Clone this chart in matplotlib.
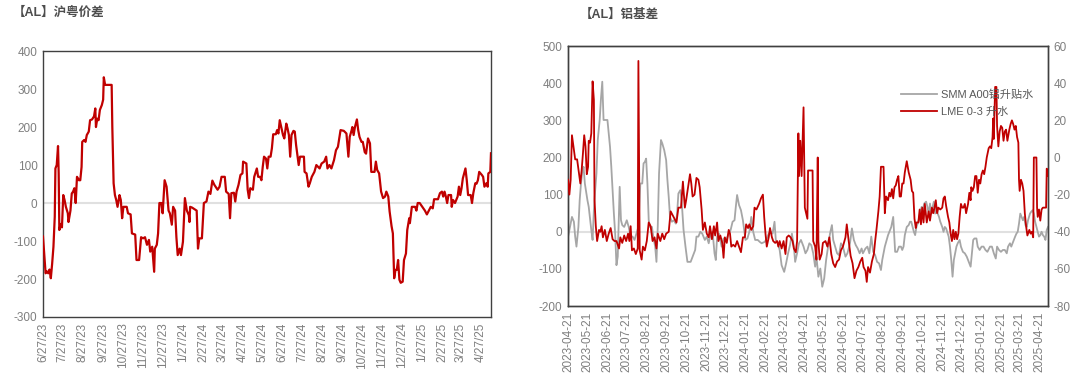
import matplotlib
matplotlib.use("Agg")
import matplotlib.pyplot as plt
import numpy as np
import pandas as pd

plt.rcParams['font.family'] = ['Liberation Sans', 'Noto Sans CJK SC', 'DejaVu Sans']
plt.rcParams['axes.unicode_minus'] = False

RED = '#c00000'
GRAY = '#a6a6a6'
TXT = '#7f7f7f'
TITLE = '#4d4d4d'

# ---- 沪粤价差 (days since 2023-06-27, value) ----
hy_start = '2023-06-27'
hy_days = [0, 4, 6, 8, 10, 12, 14, 16, 18, 19, 21, 23, 24, 25, 27, 29, 31, 33, 35, 38,
           39, 42, 44, 46, 48, 50, 52, 55, 57, 59, 60, 63, 65, 67, 70, 72, 75, 78, 80, 81,
           83, 85, 87, 90, 92, 93, 95, 105, 106, 108, 110, 112, 114, 117, 119, 121, 123, 128, 130, 134,
           136, 141, 143, 147, 150, 153, 156, 159, 162, 164, 167, 170, 171, 174, 176, 178, 181, 183, 186, 189,
           192, 194, 197, 199, 202, 204, 206, 209, 211, 214, 217, 220, 223, 224, 225, 228, 235, 237, 239, 243,
           246, 250, 253, 256, 259, 262, 267, 270, 273, 278, 280, 284, 286, 288, 292, 294, 296, 299, 302, 305,
           306, 311, 313, 315, 317, 321, 323, 327, 329, 332, 334, 336, 338, 341, 343, 345, 348, 350, 352, 356,
           358, 360, 362, 365, 367, 369, 372, 374, 376, 378, 380, 383, 385, 387, 391, 393, 399, 400, 403, 406,
           408, 411, 415, 418, 423, 426, 430, 433, 435, 438, 441, 445, 448, 451, 455, 460, 464, 467, 469, 472,
           473, 475, 477, 480, 482, 484, 487, 489, 492, 494, 497, 500, 502, 507, 509, 511, 514, 517, 520, 523,
           525, 528, 530, 533, 535, 537, 539, 541, 543, 545, 547, 550, 552, 555, 557, 560, 561, 564, 569, 571,
           573, 576, 580, 584, 587, 590, 593, 596, 598, 604, 607, 610, 612, 614, 616, 618, 620, 624, 625, 627,
           630, 634, 636, 638, 640, 642, 644, 646, 648, 650, 654, 656, 658, 661, 663, 665, 667, 671, 673, 675,
           678, 680, 681, 684, 685]
hy_vals = [-88, -185, -180, -185, -175, -198, -160, -115, -36, 91, 100, 150, 78, -71, -55, -64, 21, 8, -10, -27,
           -50, -20, 25, 30, 39, 0, 69, 60, 60, 95, 161, 166, 161, 179, 188, 218, 220, 228, 249, 200,
           222, 218, 245, 258, 272, 331, 311, 311, 201, 52, 21, 8, -10, 21, 8, -40, -10, -10, -27, -30,
           -80, -83, -150, -150, -90, -93, -90, -110, -97, -128, -115, -181, -120, -110, -80, 0, 0, -27, 60, 43,
           -20, -27, -57, -10, -20, -90, -137, -120, -137, -102, 13, -20, -32, -50, -10, -12, -20, -120, -93, -93,
           0, 4, 30, 24, 59, 48, 35, 43, 69, 69, 30, 24, -40, 26, 27, 4, 30, 48, 74, 78,
           109, 104, 35, 13, 39, 35, 69, 91, 69, 69, 60, 95, 122, 117, 91, 122, 122, 144, 181, 181,
           192, 183, 218, 194, 179, 170, 209, 196, 179, 122, 179, 190, 188, 153, 100, 122, 122, 82, 78, 43,
           52, 69, 82, 100, 91, 104, 109, 122, 91, 100, 91, 113, 139, 148, 192, 190, 183, 122, 174, 192,
           200, 179, 200, 220, 192, 174, 161, 161, 134, 130, 170, 157, 82, 82, 109, 87, 78, 30, 13, 17,
           30, 17, -22, -61, -80, -198, -176, -176, -150, -202, -210, -207, -150, -133, -71, -40, -53, -10, -10, -20,
           0, 0, -10, -20, -30, -20, -10, -14, 10, 10, 26, 30, 17, 30, 17, 0, 21, 21, -10, 8,
           0, 17, 43, 21, 39, 65, 78, 91, 60, 21, 21, 0, 26, 52, 51, 60, 82, 74, 69, 43,
           52, 43, 78, 82, 131]

# ---- 铝基差 (days since 2023-04-21) ----
jc_start = '2023-04-21'
jc_span = 744
smm_days = [0, 3, 6, 9, 11, 13, 16, 18, 20, 22, 24, 26, 28, 30, 32, 34, 36, 38, 40, 42,
            44, 46, 49, 51, 53, 55, 61, 63, 65, 67, 69, 71, 73, 75, 77, 80, 82, 84, 87, 91,
            94, 97, 100, 103, 106, 109, 112, 115, 117, 119, 121, 123, 125, 127, 130, 132, 135, 137, 139, 141,
            144, 146, 149, 152, 154, 156, 158, 161, 164, 167, 169, 171, 174, 176, 179, 182, 185, 190, 194, 197,
            199, 202, 205, 208, 212, 215, 218, 221, 224, 227, 229, 231, 234, 238, 241, 245, 249, 252, 255, 258,
            260, 262, 265, 268, 271, 275, 278, 281, 284, 287, 290, 294, 297, 300, 305, 308, 311, 314, 317, 320,
            322, 325, 328, 331, 335, 338, 341, 344, 347, 350, 352, 355, 358, 361, 365, 368, 371, 374, 377, 380,
            383, 385, 388, 391, 394, 397, 400, 403, 406, 409, 411, 414, 417, 420, 423, 426, 430, 433, 437, 440,
            443, 446, 449, 452, 455, 457, 461, 464, 467, 470, 473, 476, 479, 482, 485, 487, 489, 491, 494, 496,
            498, 501, 504, 506, 507, 510, 513, 516, 518, 520, 522, 525, 528, 530, 532, 534, 536, 538, 540, 543,
            545, 548, 550, 552, 555, 557, 559, 561, 563, 565, 567, 569, 571, 573, 575, 577, 580, 582, 584, 586,
            590, 592, 594, 596, 598, 600, 602, 604, 607, 609, 612, 615, 618, 622, 624, 626, 628, 630, 633, 635,
            638, 641, 644, 647, 650, 654, 657, 660, 663, 665, 668, 671, 674, 677, 680, 682, 685, 687, 689, 691,
            693, 695, 697, 699, 701, 703, 705, 707, 709, 711, 713, 716, 718, 720, 722, 724, 726, 728, 730, 732,
            734, 736, 738, 740, 742, 744]
smm_vals = [-13, 13, 40, 27, -13, -40, 13, 85, 130, 162, 175, 130, 108, 85, 67, 36, 5, -22, 58, 112,
            157, 247, 301, 359, 404, 301, 301, 265, 229, 175, 112, 49, -5, -90, -67, 121, 31, 18, 13, 31,
            13, -13, -13, -22, -5, 13, 130, 130, 184, 188, 197, 130, 31, 13, 13, -13, -40, -81, 13, 157,
            247, 238, 220, 193, 139, 94, 40, 27, 31, 22, 49, 103, 112, 85, 5, -40, -81, -81, -63, -49,
            -13, -13, 0, -5, -22, -13, -31, -5, 0, -58, -76, -13, -5, -40, -18, -22, -5, 5, 27, 31,
            67, 99, 72, 58, 31, -22, -18, 0, 40, 0, -22, -22, -27, -31, -27, -18, -5, 0, -5, 27,
            -22, -31, -49, -90, -108, -85, -58, -36, -5, -40, -81, -58, -31, -22, -40, -58, -49, -31, -36, -58,
            -94, -67, -121, -99, -148, -126, -76, -40, -5, 18, -22, -40, -58, -63, -31, -40, -67, -58, -31, 9,
            -22, -36, -45, -58, -45, -58, -45, -40, -58, -13, -54, -63, -81, -85, -103, -76, -58, -40, -22, -9,
            0, 13, 40, -22, -54, -54, -40, -40, -49, -40, -9, 13, 18, 27, 27, 13, 0, -9, 13, 27,
            45, 67, 58, 76, 81, 67, 49, 76, 49, 67, 81, 49, 67, 49, 40, 27, 13, 0, 13, 9,
            -13, -40, -76, -121, -76, -58, -40, -31, -22, -40, -54, -58, -67, -85, -94, -58, -22, -18, -18, -40,
            -49, -40, -40, -49, -54, -40, -40, -58, -72, -40, -49, -54, -49, -49, -58, -40, -31, -40, -31, -22,
            -13, -5, 0, 22, 49, 40, 31, 40, 18, 13, 31, 49, 54, 58, 49, 27, 13, 0, -13, -9,
            0, -9, -13, -22, 5, 13]

lme_days = [0, 2, 4, 6, 9, 11, 14, 17, 19, 21, 23, 25, 27, 29, 31, 32, 34, 36, 38, 40,
            41, 43, 45, 48, 50, 52, 54, 57, 60, 63, 66, 69, 72, 75, 79, 81, 84, 87, 90, 93,
            95, 97, 99, 102, 105, 108, 109, 111, 114, 116, 119, 122, 125, 128, 131, 134, 137, 139, 143, 146,
            149, 152, 156, 159, 162, 165, 168, 171, 175, 178, 181, 183, 186, 189, 191, 193, 196, 199, 202, 204,
            207, 209, 212, 215, 218, 220, 223, 226, 228, 231, 233, 236, 239, 241, 243, 246, 249, 251, 253, 256,
            259, 262, 265, 268, 271, 274, 276, 279, 281, 284, 287, 289, 292, 296, 299, 302, 304, 306, 308, 311,
            313, 316, 318, 321, 324, 326, 328, 331, 334, 337, 339, 342, 345, 348, 350, 353, 355, 357, 358, 360,
            362, 365, 367, 369, 371, 372, 379, 380, 383, 385, 387, 388, 390, 393, 395, 399, 402, 405, 408, 411,
            414, 417, 420, 423, 426, 430, 432, 435, 438, 441, 444, 447, 450, 453, 456, 458, 461, 463, 465, 468,
            471, 474, 476, 478, 481, 483, 485, 489, 491, 493, 496, 498, 500, 502, 504, 506, 508, 510, 512, 514,
            516, 518, 520, 522, 525, 528, 531, 533, 535, 537, 539, 540, 543, 545, 547, 549, 551, 553, 556, 559,
            561, 564, 566, 568, 570, 572, 574, 577, 580, 582, 584, 586, 589, 591, 593, 595, 597, 599, 601, 603,
            605, 607, 609, 611, 613, 615, 617, 620, 622, 624, 625, 627, 629, 631, 633, 635, 637, 639, 641, 643,
            645, 647, 649, 652, 654, 656, 658, 659, 660, 662, 664, 665, 667, 669, 671, 673, 675, 677, 679, 681,
            684, 686, 688, 690, 692, 694, 696, 698, 699, 700, 702, 704, 706, 708, 710, 712, 715, 717, 719, 721,
            722, 726, 727, 728, 730, 732, 734, 736, 738, 740, 741, 742, 744]
lme_vals = [-12, -20, -12, 12, 4, -1, -1, -9, -14, -7, 2, 12, 6, -9, -5, 9, 8, 13, 41, 31,
            -23, -37, -45, -39, -40, -37, -43, -39, -45, -41, -38, -44, -45, -45, -49, -43, -46, -42, -45, -41,
            -45, -37, -50, -49, -52, -49, 52, -50, -55, -48, -50, -45, -35, -37, -45, -43, -49, -41, -45, -41,
            -44, -41, -40, -29, -31, -33, -35, -27, -27, -13, -27, -23, -16, -9, -14, -21, -20, -11, -12, -16,
            -28, -39, -35, -41, -43, -37, -44, -37, -42, -35, -45, -42, -46, -54, -43, -46, -39, -41, -48, -47,
            -48, -45, -48, -51, -43, -43, -36, -38, -36, -39, -37, -27, -28, -25, -22, -20, -32, -41, -48, -43,
            -38, -43, -45, -46, -45, -48, -45, -49, -45, -52, -43, -42, -43, -45, -49, -51, -45, 13, -10, 9,
            -10, 27, -27, -30, -33, -7, -7, -45, -48, -55, 0, -45, -55, -52, -46, -45, -48, -43, -52, -57,
            -59, -56, -55, -50, -48, -43, -36, -45, -53, -57, -65, -61, -59, -56, -54, -59, -61, -67, -59, -62,
            -56, -52, -45, -39, -29, -21, -5, -5, -30, -21, -23, -19, -21, -17, -22, -16, -15, -12, -10, -21,
            -21, -14, -14, -8, -2, -8, -12, -18, -19, -33, -38, -35, -35, -28, -36, -27, -35, -25, -35, -29,
            -34, -27, -30, -27, -23, -30, -27, -28, -27, -22, -21, -26, -32, -35, -41, -45, -39, -44, -40, -44,
            -41, -32, -25, -27, -27, -25, -30, -25, -19, -23, -16, -18, -16, -10, -10, -19, -12, -14, -9, -7,
            -9, -5, 0, 5, 6, 5, 11, 21, 10, 38, 38, 17, 6, 14, 17, 16, 9, 14, 15, 9,
            15, 18, 20, 18, 15, 17, 11, 8, -12, -18, -12, -14, -18, -30, -37, -42, -39, -41, -40, -43,
            0, 0, -27, -32, -28, -34, -28, -27, -27, -27, -27, -6, -10]

hy_dates = pd.Timestamp(hy_start) + pd.to_timedelta(hy_days, unit='D')
smm_dates = pd.Timestamp(jc_start) + pd.to_timedelta(smm_days, unit='D')
lme_dates = pd.Timestamp(jc_start) + pd.to_timedelta(lme_days, unit='D')

# monthly ticks: the 27th (left) and the 21st (right)
hy_ticks = pd.date_range('2023-06-01', '2025-04-01', freq='MS') + pd.Timedelta(days=26)
jc_ticks = pd.date_range('2023-04-01', '2025-04-01', freq='MS') + pd.Timedelta(days=20)


def style_axes(ax):
    for s in ax.spines.values():
        s.set_color('#404040')
        s.set_linewidth(1.0)
    ax.tick_params(axis='both', length=0, colors=TXT, labelsize=8.5, pad=4)


fig = plt.figure(figsize=(10.8, 3.84), dpi=100)

# left chart
ax1 = fig.add_axes([0.0398, 0.1745, 0.4148, 0.6925])
ax1.axhline(0, color='#e0e0e0', lw=1.5, zorder=1)
ax1.plot(hy_dates, hy_vals, color=RED, lw=1.6, zorder=3)
ax1.set_ylim(-300, 400)
ax1.set_yticks(np.arange(-300, 401, 100))
ax1.set_xlim(hy_dates[0], hy_dates[-1])
ax1.set_xticks(hy_ticks)
ax1.set_xticklabels([f'{d.month}/{d.day}/{d.strftime("%y")}' for d in hy_ticks], rotation=90)
style_axes(ax1)
fig.text(0.012, 0.966, '【AL】沪粤价差', fontsize=9, fontweight='bold', color=TITLE, va='center')

# right chart
ax2 = fig.add_axes([0.526, 0.203, 0.4444, 0.677])
ax3 = ax2.twinx()
ax2.axhline(0, color='#e0e0e0', lw=1.5, zorder=1)
l1, = ax2.plot(smm_dates, smm_vals, color=GRAY, lw=1.3, zorder=2, label='SMM A00铝升贴水')
l2, = ax3.plot(lme_dates, lme_vals, color=RED, lw=1.3, zorder=3, label='LME 0-3 升水')
ax2.set_ylim(-200, 500)
ax2.set_yticks(np.arange(-200, 501, 100))
ax3.set_ylim(-80, 60)
ax3.set_yticks(np.arange(-80, 61, 20))
ax2.set_xlim(pd.Timestamp(jc_start), pd.Timestamp(jc_start) + pd.Timedelta(days=jc_span))
ax2.set_xticks(jc_ticks)
ax2.set_xticklabels([d.strftime('%Y-%m-%d') for d in jc_ticks], rotation=90)
style_axes(ax2)
style_axes(ax3)
ax3.legend(handles=[l1, l2], loc='upper right', bbox_to_anchor=(0.99, 0.87), frameon=False,
           fontsize=8, labelcolor='#595959', handlelength=3.2, handletextpad=0.4, labelspacing=0.6)
fig.text(0.537, 0.961, '【AL】铝基差', fontsize=9, fontweight='bold', color=TITLE, va='center')

fig.savefig('out.png', dpi=100)
